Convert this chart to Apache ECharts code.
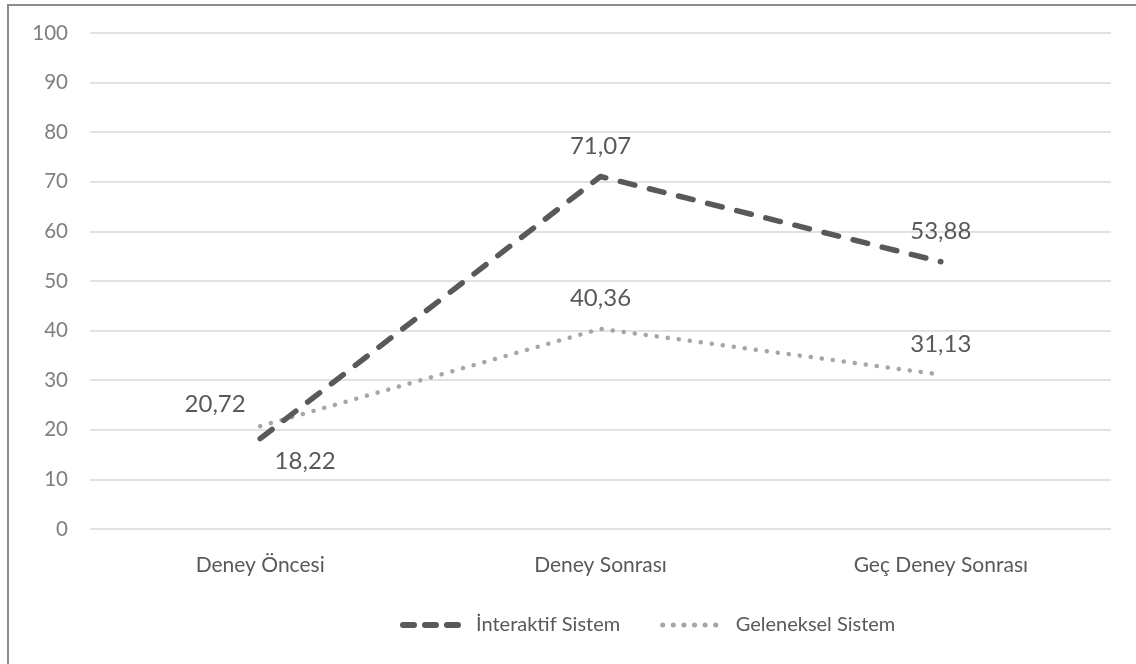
<!DOCTYPE html>
<html>
<head>
<meta charset="utf-8">
<script src="https://cdn.jsdelivr.net/npm/echarts@6/dist/echarts.min.js"></script>
<style>
  html, body { margin: 0; padding: 0; background: #fff; }
  #frame { position: absolute; left: 7px; top: 4px; width: 1140px; height: 680px;
           border: 2px solid #8c8c8c; box-sizing: border-box; }
  #chart { position: absolute; left: 0; top: 0; width: 1136px; height: 664px; }
</style>
</head>
<body>
<div id="frame"></div>
<div id="chart"></div>
<script>
// Test phases and mean scores for both systems
const categories = ['Deney Öncesi', 'Deney Sonrası', 'Geç Deney Sonrası'];
const interaktif = [18.22, 71.07, 53.88];
const geleneksel = [20.72, 40.36, 31.13];
const seriesNames = ['İnteraktif Sistem', 'Geleneksel Sistem'];

const fmt = v => v.toFixed(2).replace('.', ',');
const labelFont = { fontFamily: 'Lato', fontSize: 24, color: '#595959' };

// Label placements per point, keyed by series
const interaktifLabels = [
  { position: 'bottom', distance: 10, offset: [45, 0] },
  { position: 'top', distance: 18 },
  { position: 'top', distance: 18 }
];
const gelenekselLabels = [
  { position: 'left', distance: 14, offset: [0, -22] },
  { position: 'top', distance: 18 },
  { position: 'top', distance: 18 }
];

function buildData(values, labels) {
  return values.map((v, i) => ({
    value: v,
    label: Object.assign({ show: true, formatter: fmt(v) }, labelFont, labels[i])
  }));
}

const darkDash = { color: '#595959', width: 5.5, type: [15, 15], cap: 'round', join: 'round' };
const greyDots = { color: '#a6a6a6', width: 4.5, type: [0.1, 11], cap: 'round' };

const chart = echarts.init(document.getElementById('chart'), null, { renderer: 'canvas' });
chart.setOption({
  animation: false,
  backgroundColor: 'transparent',
  grid: { left: 90, right: 25, top: 33, bottom: 135 },
  legend: {
    bottom: 24,
    left: 395,
    itemWidth: 60,
    itemHeight: 14,
    itemGap: 40,
    textStyle: { fontFamily: 'Lato', fontSize: 20, color: '#595959', padding: [0, 0, 0, 8] },
    data: [
      { name: seriesNames[0], itemStyle: { opacity: 0 },
        lineStyle: { color: '#595959', width: 6, type: [11, 11], cap: 'round' } },
      { name: seriesNames[1], itemStyle: { opacity: 0 },
        lineStyle: { color: '#a6a6a6', width: 5, type: [0.1, 10.5], cap: 'round' } }
    ]
  },
  xAxis: {
    type: 'category',
    data: categories,
    boundaryGap: true,
    axisLine: { show: false },
    axisTick: { show: false },
    axisLabel: { fontFamily: 'Lato', fontSize: 21, color: '#595959', margin: 26 }
  },
  yAxis: {
    type: 'value',
    min: 0,
    max: 100,
    interval: 10,
    axisLine: { show: false },
    axisTick: { show: false },
    axisLabel: { fontFamily: 'Lato', fontSize: 20.5, color: '#7f7f7f', margin: 22 },
    splitLine: { lineStyle: { color: '#d9d9d9', width: 1.5 } }
  },
  series: [
    {
      name: seriesNames[0],
      type: 'line',
      data: buildData(interaktif, interaktifLabels),
      symbol: 'circle',
      symbolSize: 1,
      showSymbol: true,
      itemStyle: { color: 'rgba(0,0,0,0)', borderWidth: 0 },
      lineStyle: darkDash,
      z: 3
    },
    {
      name: seriesNames[1],
      type: 'line',
      data: buildData(geleneksel, gelenekselLabels),
      symbol: 'circle',
      symbolSize: 1,
      showSymbol: true,
      itemStyle: { color: 'rgba(0,0,0,0)', borderWidth: 0 },
      lineStyle: greyDots,
      z: 2
    }
  ]
});
</script>
</body>
</html>
